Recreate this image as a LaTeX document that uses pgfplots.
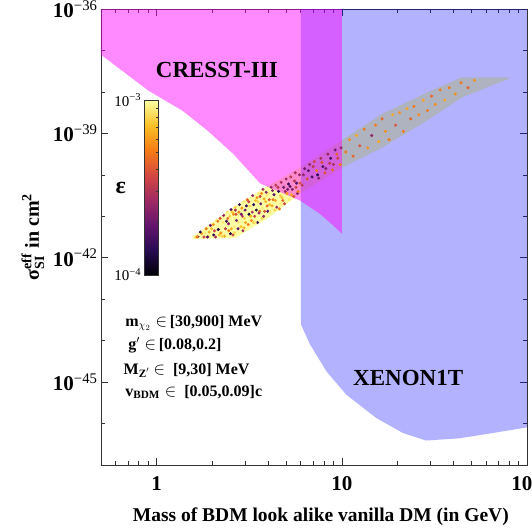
\documentclass[border=0pt]{standalone}
\usepackage{fontspec}
\setmainfont{Liberation Serif}
\usepackage{amsmath}
\usepackage{pgfplots}
\pgfplotsset{compat=1.18}

\definecolor{bandyellow}{RGB}{252,255,164}
\definecolor{cresstmag}{RGB}{255,0,255}
\definecolor{xenonblue}{RGB}{0,0,255}
\pgfplotsset{colormap={inferno}{rgb255=(0,0,4) rgb255=(40,11,84) rgb255=(101,21,110) rgb255=(159,42,99) rgb255=(212,72,66) rgb255=(245,125,21) rgb255=(250,193,39) rgb255=(252,255,164)}}

\begin{document}
\begin{tikzpicture}
\begin{axis}[
  name=ax,
  scale only axis, width=426pt, height=456pt,
  xmode=log, ymode=log,
  xmin=0.5, xmax=100, ymin=1e-47, ymax=1e-36,
  xtick={1,10,100},
  xticklabels={\textbf{1},\textbf{10},\textbf{100}},
  minor xtick={0.6,0.7,0.8,0.9,2,3,4,5,6,7,8,9,20,30,40,50,60,70,80,90},
  ytick={1e-45,1e-42,1e-39,1e-36},
  yticklabels={\textbf{10}\textsuperscript{−45},\textbf{10}\textsuperscript{−42},\textbf{10}\textsuperscript{−39},\textbf{10}\textsuperscript{−36}},
  minor ytick={1e-47,1e-46,1e-44,1e-43,1e-41,1e-40,1e-38,1e-37},
  tick label style={font=\fontsize{21}{21}\selectfont},
  xticklabel style={yshift=-8pt},
  tick align=inside,
  major tick length=7pt, minor tick length=4pt,
  tick style={black!80, line width=0.6pt},
  axis line style={black!80, line width=0.8pt},
  xlabel={Mass of BDM look alike vanilla DM (in GeV)},
  xlabel style={font=\fontsize{19.5}{20}\selectfont\bfseries, at={(axis description cs:0.516,-0.114)}, anchor=center},
  ylabel={$\text{σ}^{\text{eff}}_{\text{SI}}$ in cm\textsuperscript{2}},
  ylabel style={font=\fontsize{20}{20}\selectfont\bfseries, at={(axis description cs:-0.16,0.5)}, anchor=center},
  colormap name=inferno,
  point meta min=-4, point meta max=-3,
  colorbar,
  colorbar style={
    at={(parent axis.north west)}, anchor=north west,
    xshift=35pt, yshift=-91pt,
    scale only axis, width=14pt, height=175pt,
    ytick={-4,-3},
    yticklabels={10\textsuperscript{−4},10\textsuperscript{−3}},
    minor ytick={-3.699,-3.523,-3.398,-3.301,-3.222,-3.155,-3.097,-3.046},
    ytick pos=right, yticklabel pos=left,
    tick align=inside, major tick length=3pt, minor tick length=3pt,
    tick style={black!80, line width=0.5pt},
    yticklabel style={font=\fontsize{15}{15}\selectfont},
    ylabel={\textbf{ε}},
    ylabel style={rotate=-90, font=\fontsize{24}{24}\selectfont, at={(axis description cs:-1.7,0.5)}, anchor=center},
    axis line style={black!80, line width=0.6pt},
  },
]

% parameter band of the BDM scan
\addplot[fill=bandyellow, draw=none] coordinates {
  (1.56,3.2e-42) (2.56,1.6e-41) (3.85,4.9e-41) (5.94,1.5e-40) (10,6.8e-40)
  (16.6,3.0e-39) (30.8,1.1e-38) (44.2,2.24e-38) (80,2.24e-38)
  (80,2.1e-38) (44.7,7.4e-39) (28.6,2.0e-39) (16.6,4.6e-40) (10,1.5e-40)
  (5.94,3.5e-41) (4.0,9.1e-42) (2.66,3.0e-42) (1.56,2.85e-42)
} -- cycle;

% scan points coloured by log10(epsilon)
\addplot[scatter, only marks, mark=*, mark size=1.3pt, scatter src=explicit,
  scatter/use mapped color={draw=mapped color, fill=mapped color}]
  table[x=x, y=y, meta=e] {
x y e
1.62 3.16e-42 -3.05
1.68 3.31e-42 -3.6
1.75 3.80e-42 -3.2
1.78 3.02e-42 -3.0
1.72 4.17e-42 -3.85
1.85 5.01e-42 -3.3
1.90 3.31e-42 -3.1
1.95 6.03e-42 -3.7
2.00 3.98e-42 -3.0
2.02 6.31e-42 -3.25
2.08 3.16e-42 -3.55
2.10 7.94e-42 -3.05
2.15 4.79e-42 -3.9
2.18 3.55e-42 -3.15
2.20 8.91e-42 -3.4
2.25 5.62e-42 -3.0
2.30 1.05e-41 -3.6
2.32 3.31e-42 -3.2
2.38 7.59e-42 -3.8
2.40 1.26e-41 -3.05
2.45 4.47e-42 -3.3
2.48 1.00e-41 -3.1
2.52 1.45e-41 -3.75
2.55 6.31e-42 -3.0
2.58 3.55e-42 -3.45
2.60 1.12e-41 -3.25
2.65 1.66e-41 -3.1
2.70 7.94e-42 -3.65
2.72 4.17e-42 -3.0
2.78 1.26e-41 -3.3
2.80 1.91e-41 -3.85
2.85 5.62e-42 -3.15
2.90 1.00e-41 -3.5
2.95 2.24e-41 -3.05
3.00 1.41e-41 -3.7
3.02 7.08e-42 -3.2
3.08 2.51e-41 -3.35
3.10 5.62e-42 -3.0
3.15 1.12e-41 -3.9
3.18 1.78e-41 -3.1
3.25 7.94e-42 -3.25
3.30 3.16e-41 -3.6
3.32 1.58e-41 -3.0
3.38 1.00e-41 -3.45
3.42 2.40e-41 -3.15
3.50 7.08e-42 -3.8
3.55 3.55e-41 -3.05
3.60 1.32e-41 -3.3
3.65 2.00e-41 -3.7
3.70 8.91e-42 -3.1
3.75 4.47e-41 -3.55
3.80 2.63e-41 -3.2
3.85 1.12e-41 -3.0
3.90 3.80e-41 -3.65
3.95 1.78e-41 -3.35
1.65 3.16e-42 -3.3
1.82 3.98e-42 -3.05
1.88 3.16e-42 -3.75
1.98 5.01e-42 -3.15
2.05 4.47e-42 -3.45
2.12 6.03e-42 -3.0
2.22 3.98e-42 -3.25
2.28 7.08e-42 -3.05
2.35 5.01e-42 -3.5
2.42 8.91e-42 -3.35
2.50 3.80e-42 -3.9
2.56 1.26e-41 -3.15
2.62 5.62e-42 -3.05
2.68 1.12e-41 -3.4
2.75 5.01e-42 -3.7
2.82 9.55e-42 -3.0
2.88 1.58e-41 -3.25
2.92 4.47e-42 -3.6
2.98 8.91e-42 -3.1
3.05 1.78e-41 -3.8
3.12 6.31e-42 -3.3
3.20 2.40e-41 -3.0
3.28 1.26e-41 -3.55
3.35 7.08e-42 -3.15
3.45 1.41e-41 -3.9
3.48 2.82e-41 -3.25
3.58 8.91e-42 -3.0
3.62 3.02e-41 -3.45
3.72 1.58e-41 -3.05
3.78 1.00e-41 -3.6
3.88 2.24e-41 -3.15
3.98 1.32e-41 -3.75
1.70 3.55e-42 -3.0
1.80 3.16e-42 -3.45
1.92 4.17e-42 -3.2
2.03 3.55e-42 -3.8
2.14 7.59e-42 -3.3
2.26 3.31e-42 -3.1
2.33 8.91e-42 -3.0
2.44 6.61e-42 -3.65
2.53 5.01e-42 -3.2
2.63 3.98e-42 -3.1
2.66 1.41e-41 -3.55
2.77 7.08e-42 -3.05
2.86 1.12e-41 -3.7
2.96 5.25e-42 -3.2
3.03 1.20e-41 -3.0
3.14 2.24e-41 -3.45
3.22 1.00e-41 -3.15
3.34 1.91e-41 -3.85
3.40 7.08e-42 -3.05
3.52 2.24e-41 -3.1
3.57 1.20e-41 -3.6
3.68 3.55e-41 -3.25
3.76 2.09e-41 -3.0
3.83 1.32e-41 -3.4
3.93 3.16e-41 -3.05
4.02 3.55e-41 -3.05
4.08 1.91e-41 -3.15
4.22 4.17e-41 -3.65
4.25 2.51e-41 -3.3
4.38 2.40e-41 -3.2
4.45 1.66e-41 -3.6
4.52 5.01e-41 -3.5
4.65 3.16e-41 -3.1
4.68 2.00e-41 -3.05
4.80 2.40e-41 -3.35
4.95 3.98e-41 -3.6
5.10 4.47e-41 -3.7
5.25 5.25e-41 -3.75
5.35 3.31e-41 -3.2
5.55 7.08e-41 -3.5
5.65 5.01e-41 -3.45
5.75 3.55e-41 -3.65
5.95 6.31e-41 -3.4
4.05 2.51e-41 -3.4
4.10 1.26e-41 -3.05
4.15 5.01e-41 -3.6
4.20 1.78e-41 -3.2
4.30 3.31e-41 -3.75
4.35 1.41e-41 -3.1
4.40 5.62e-41 -3.5
4.50 2.24e-41 -3.0
4.55 3.98e-41 -3.85
4.60 1.51e-41 -3.3
4.70 6.61e-41 -3.55
4.75 2.82e-41 -3.15
4.85 5.01e-41 -3.7
4.90 2.00e-41 -3.45
5.00 7.94e-41 -3.6
5.05 3.55e-41 -3.25
5.15 6.03e-41 -3.8
5.20 2.51e-41 -3.05
5.30 8.91e-41 -3.5
5.40 4.47e-41 -3.65
5.50 3.02e-41 -3.4
5.60 1.12e-40 -3.55
5.70 6.31e-41 -3.75
5.80 3.98e-41 -3.3
5.90 1.00e-40 -3.6
6.1 5.62e-41 -3.5
6.2 1.00e-40 -3.6
6.3 1.41e-40 -3.7
6.5 7.94e-41 -3.4
6.6 1.26e-40 -3.75
6.7 1.78e-40 -3.6
6.9 8.91e-41 -3.8
7.0 1.58e-40 -3.5
7.1 2.09e-40 -3.45
7.3 1.26e-40 -3.3
7.4 1.00e-40 -3.85
7.5 8.32e-41 -3.65
7.7 2.51e-40 -3.55
7.8 2.00e-40 -3.4
7.9 1.58e-40 -3.75
8.1 1.12e-40 -3.4
8.2 1.41e-40 -3.65
8.4 3.16e-40 -3.6
8.6 1.91e-40 -3.5
8.7 2.51e-40 -3.8
8.9 1.32e-40 -3.35
9.0 1.78e-40 -3.55
9.2 3.98e-40 -3.7
9.4 3.16e-40 -3.35
9.5 2.51e-40 -3.45
9.8 1.78e-40 -3.3
9.9 4.47e-40 -3.6
10.5 3.55e-40 -3.3
11.0 7.08e-40 -3.25
11.5 2.82e-40 -3.35
12.0 8.91e-40 -3.2
12.5 5.01e-40 -3.4
13.2 1.26e-39 -3.3
13.8 4.47e-40 -3.25
14.5 8.91e-40 -3.6
15.2 1.58e-39 -3.3
15.8 6.31e-40 -3.2
16.5 2.24e-39 -3.35
17.2 1.12e-39 -3.25
18.0 7.08e-40 -3.3
18.8 2.82e-39 -3.2
19.5 1.58e-39 -3.4
20.5 3.16e-39 -3.25
21.5 1.12e-39 -3.3
22.5 3.98e-39 -3.2
23.5 2.24e-39 -3.35
24.5 4.47e-39 -3.3
26.0 2.82e-39 -3.25
27.5 6.31e-39 -3.2
29.0 3.55e-39 -3.3
30.5 7.94e-39 -3.35
32.0 5.01e-39 -3.25
34.0 1.12e-38 -3.3
36.0 6.31e-39 -3.2
38.0 1.26e-38 -3.3
41.0 8.91e-39 -3.25
44.0 1.66e-38 -3.3
48.0 1.26e-38 -3.35
52.0 1.91e-38 -3.25
};

% XENON1T excluded region
\addplot[fill=xenonblue, fill opacity=0.3, draw=none] coordinates {
  (6,1e-36) (100,1e-36) (100,8.1e-47) (65,5.9e-47) (43,4.4e-47) (28.5,3.9e-47)
  (21.4,5.9e-47) (15.4,1.35e-46) (10.6,4.9e-46) (8.27,1.8e-45) (6.73,8.1e-45)
  (6,2.5e-44)
} -- cycle;

% CRESST-III excluded region
\addplot[fill=cresstmag, fill opacity=0.46, draw=none] coordinates {
  (0.5,1e-36) (10,1e-36) (10,3.8e-42) (8.8,6.5e-42) (7.6,1.15e-41) (5.94,2.4e-41)
  (4.0,5.1e-41) (3.62,6.2e-41) (2.59,3.2e-40) (1.88,1.17e-39) (1.38,3.5e-39)
  (0.895,1.1e-38) (0.5,7.9e-38)
} -- cycle;

\node[font=\fontsize{23}{23}\selectfont\bfseries] at (rel axis cs:0.272,0.866) {CRESST-III};
\node[font=\fontsize{23}{23}\selectfont\bfseries] at (rel axis cs:0.721,0.191) {XENON1T};

\node[anchor=west, font=\fontsize{16}{16}\selectfont\bfseries] at (rel axis cs:0.049,0.311) {m$_{\chi_{2}}\in$\,[30,900] MeV};
\node[anchor=west, font=\fontsize{16}{16}\selectfont\bfseries] at (rel axis cs:0.056,0.263) {g$'\in$\,[0.08,0.2]};
\node[anchor=west, font=\fontsize{16}{16}\selectfont\bfseries] at (rel axis cs:0.045,0.208) {M$_{\text{Z}'}$ $\in$ \ [9,30] MeV};
\node[anchor=west, font=\fontsize{16}{16}\selectfont\bfseries] at (rel axis cs:0.049,0.160) {v$_{\text{BDM}}\in$ \ [0.05,0.09]c};
\end{axis}
\pgfresetboundingbox
\path[use as bounding box] ([xshift=-101pt,yshift=-62pt]ax.south west) rectangle ([xshift=5pt,yshift=9pt]ax.north east);
\end{tikzpicture}
\end{document}
